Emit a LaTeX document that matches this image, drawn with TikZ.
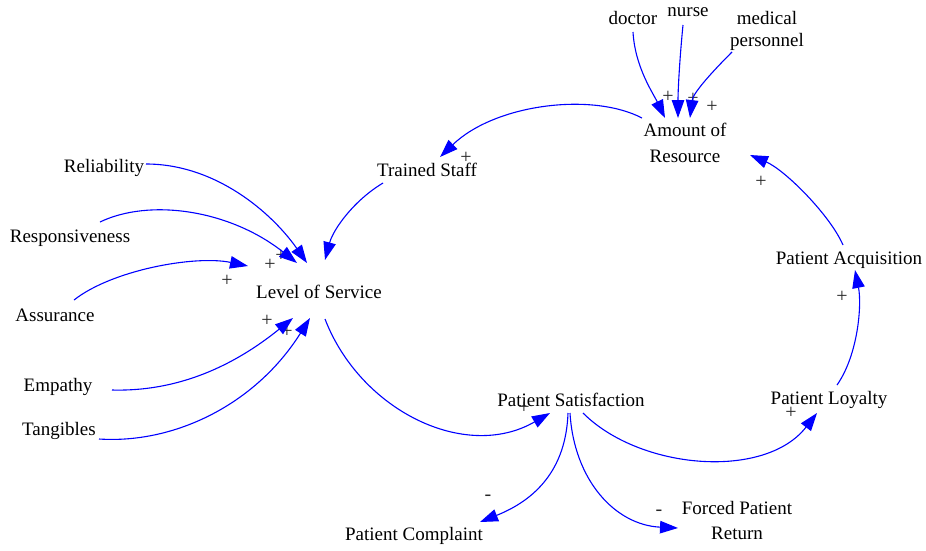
\documentclass[tikz,border=0pt]{standalone}
\usepackage{fontspec}
\setmainfont{Liberation Serif}
\usetikzlibrary{arrows.meta,calc}
\begin{document}
\begin{tikzpicture}[x=1pt,y=-1pt,
  var/.style={inner sep=0pt,align=center,font=\fontsize{19}{22}\selectfont},
  pol/.style={inner sep=0pt,text=black!85,font=\fontsize{20}{22}\selectfont},
  link/.style={draw={rgb,255:red,0;green,0;blue,255},line width=1.1pt,
    -{Triangle[length=18pt,width=12.5pt]}}]
\useasboundingbox (0,0) rectangle (926,550);

% variables
\node[var] (doctor) at (633,18) {doctor};
\node[var] (nurse)  at (688,12) {nurse};
\node[var] (med)    at (767,31) {medical\\personnel};
\node[var] (amt)    at (685,143) {Amount of\\[4pt]Resource};
\node[var] (staff)  at (427,170) {Trained Staff};
\node[var] (rel)    at (104,168) {Reliability};
\node[var] (resp)   at (70,238)  {Responsiveness};
\node[var] (assur)  at (55,315)  {Assurance};
\node[var] (los)    at (319,292) {Level of Service};
\node[var] (emp)    at (58,387)  {Empathy};
\node[var] (tang)   at (59,431)  {Tangibles};
\node[var] (sat)    at (571,400) {Patient Satisfaction};
\node[var] (loy)    at (829,400) {Patient Loyalty};
\node[var] (acq)    at (849,260) {Patient Acquisition};
\node[var] (compl)  at (414,536) {Patient Complaint};
\node[var] (ret)    at (737,520) {Forced Patient\\[3pt]Return};

% polarity signs
\node[pol] (p1)  at (668,97)  {+};
\node[pol] (p2)  at (693,99)  {+};
\node[pol] (p3)  at (712,107) {+};
\node[pol] (p4)  at (466,158) {+};
\node[pol] (p5)  at (270,265) {+};
\node[pol] (p6)  at (281,256) {+};
\node[pol] (p7)  at (227,281) {+};
\node[pol] (p8)  at (267,321) {+};
\node[pol] (p9)  at (287,332) {+};
\node[pol] (p10) at (524,408) {+};
\node[pol] (p11) at (488,498) {-};
\node[pol] (p12) at (659,513) {-};
\node[pol] (p13) at (791,413) {+};
\node[pol] (p14) at (842,297) {+};
\node[pol] (p15) at (761,182) {+};

% causal links
\draw[link] ($(doctor)+(0,14)$) .. controls +(2,35) and +(-12,-25) .. ($(amt)+(-20,-25)$);
\draw[link] ($(nurse)+(-5,13)$) .. controls +(-3,30) and +(0,-30) .. ($(amt)+(-7,-25)$);
\draw[link] ($(med)+(-35,21)$) .. controls +(-20,20) and +(3,-25) .. ($(amt)+(5,-25)$);
\draw[link] ($(amt)+(-43,-25)$) .. controls +(-50,-26) and +(55,-53) .. ($(staff)+(13,-13)$);
\draw[link] ($(staff)+(-44,13)$) .. controls +(-30,18) and +(8,-30) .. ($(los)+(6,-32)$);
\draw[link] ($(rel)+(42,-4)$) .. controls +(70,0) and +(-35,-50) .. ($(los)+(-12,-29)$);
\draw[link] ($(resp)+(30,-16)$) .. controls +(50,-24) and +(-67,-53) .. ($(los)+(-22,-29)$);
\draw[link] ($(assur)+(19,-15)$) .. controls +(38,-30) and +(-53,-11) .. ($(los)+(-71,-26)$);
\draw[link] ($(emp)+(54,3)$) .. controls +(73,2) and +(-52,42) .. ($(los)+(-26,26)$);
\draw[link] ($(tang)+(40,8)$) .. controls +(76,5) and +(-54,86) .. ($(los)+(-9,26)$);
\draw[link] ($(los)+(6,27)$) .. controls +(35,91) and +(-85,49) .. ($(sat)+(-21,13)$);
\draw[link] ($(sat)+(-3,13)$) .. controls +(-2,57) and +(55,-22) .. ($(compl)+(66,-14)$);
\draw[link] ($(sat)+(-1,13)$) .. controls +(4,67) and +(-63,-3) .. ($(ret)+(-59,8)$);
\draw[link] ($(sat)+(12,13)$) .. controls +(57,57) and +(-52,67) .. ($(loy)+(-12,13)$);
\draw[link] ($(loy)+(8,-15)$) .. controls +(21,-30) and +(7,35) .. ($(acq)+(6,10)$);
\draw[link] ($(acq)+(-6,-15)$) .. controls +(-13,-30) and +(35,15) .. ($(amt)+(65,12)$);
\end{tikzpicture}
\end{document}
